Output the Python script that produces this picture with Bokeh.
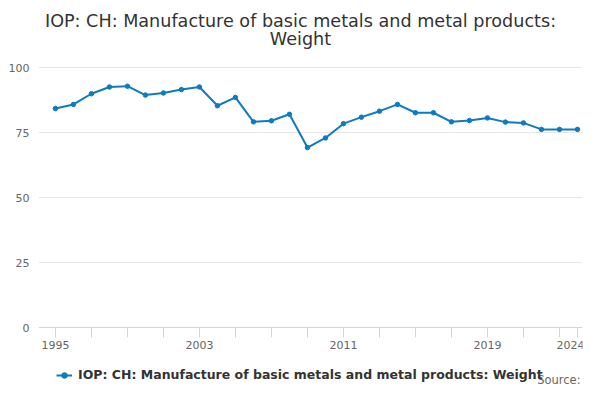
from bokeh.plotting import figure
from bokeh.models import (ColumnDataSource, FixedTicker, Range1d, Legend, LegendItem, Label)
from bokeh.embed import file_html
from bokeh.resources import INLINE

years = list(range(1995, 2025))
values = [84.2, 85.8, 89.9, 92.5, 92.8, 89.4, 90.2, 91.5, 92.5, 85.3,
          88.5, 79.1, 79.5, 82.0, 69.2, 72.9, 78.4, 80.9, 83.2, 85.8,
          82.6, 82.6, 79.1, 79.6, 80.6, 79.0, 78.7, 76.2, 76.2, 76.2]
x_ticks = [1995, 1997, 1999, 2001, 2003, 2005, 2007, 2009, 2011, 2013,
           2015, 2017, 2019, 2021, 2023, 2024]
x_labels = [1995, 2003, 2011, 2019, 2024]
y_ticks = [0, 25, 50, 75, 100]
series_name = "IOP: CH: Manufacture of basic metals and metal products: Weight"
title_line1 = "IOP: CH: Manufacture of basic metals and metal products:"
title_line2 = "Weight"
source_text = "Source:"
color = "#0c7bc0"
FONT = "DejaVu Sans"

src = ColumnDataSource(dict(x=years, y=values))

# the frame covers the whole canvas height; the value axis spans 0..100
p = figure(width=584, height=384, output_backend="svg", toolbar_location=None,
           x_range=Range1d(1994.06, 2024.28), y_range=Range1d(-21.92, 125.77),
           x_axis_location="above",
           min_border_left=38, min_border_right=2, min_border_top=0,
           min_border_bottom=0)
p.outline_line_color = None
p.background_fill_color = "white"
p.border_fill_color = "white"

r_line = p.line("x", "y", source=src, line_color=color, line_width=2)
r_pts = p.scatter("x", "y", source=src, size=4.5, fill_color=color, line_color=color)

# x axis, drawn at y = 0 inside the frame
xa = p.xaxis[0]
xa.fixed_location = 0
xa.ticker = FixedTicker(ticks=x_ticks)
xa.major_label_overrides = {t: (str(t) if t in x_labels else "") for t in x_ticks}
xa.axis_line_color = "#ccd6eb"
xa.major_tick_line_color = "#ccd6eb"
xa.major_tick_out = 0
xa.major_tick_in = 10
xa.minor_tick_line_color = None
xa.major_label_text_font = FONT
xa.major_label_text_font_size = "11px"
xa.major_label_text_color = "#666666"
xa.major_label_standoff = -21

ya = p.yaxis[0]
ya.ticker = FixedTicker(ticks=y_ticks)
ya.axis_line_color = None
ya.major_tick_line_color = None
ya.minor_tick_line_color = None
ya.major_label_text_font = FONT
ya.major_label_text_font_size = "11px"
ya.major_label_text_color = "#666666"
ya.major_label_standoff = 3

p.xgrid.grid_line_color = None
p.ygrid.ticker = FixedTicker(ticks=y_ticks)
p.ygrid.grid_line_color = "#e6e6e6"

legend = Legend(items=[LegendItem(label=series_name, renderers=[r_line, r_pts])],
                orientation="horizontal", location=(18, 2),
                label_text_font=FONT, label_text_font_size="12.5px",
                label_text_font_style="bold", label_text_color="#333333",
                border_line_color=None, background_fill_alpha=0,
                glyph_width=16, glyph_height=14, label_height=14,
                label_standoff=6, padding=2, margin=0, spacing=0)
p.add_layout(legend, "center")

p.add_layout(Label(x=542, y=4.5, x_units="screen", y_units="screen", text=source_text,
                   text_font=FONT, text_font_size="11.5px", text_color="#666666",
                   text_align="right", text_baseline="middle"))

for txt, ty in ((title_line1, 364), (title_line2, 346)):
    p.add_layout(Label(x=262, y=ty, x_units="screen", y_units="screen", text=txt,
                       text_font=FONT, text_font_size="17.6px", text_color="#333333",
                       text_align="center", text_baseline="middle"))

open("out.html", "w").write(file_html(p, INLINE))
